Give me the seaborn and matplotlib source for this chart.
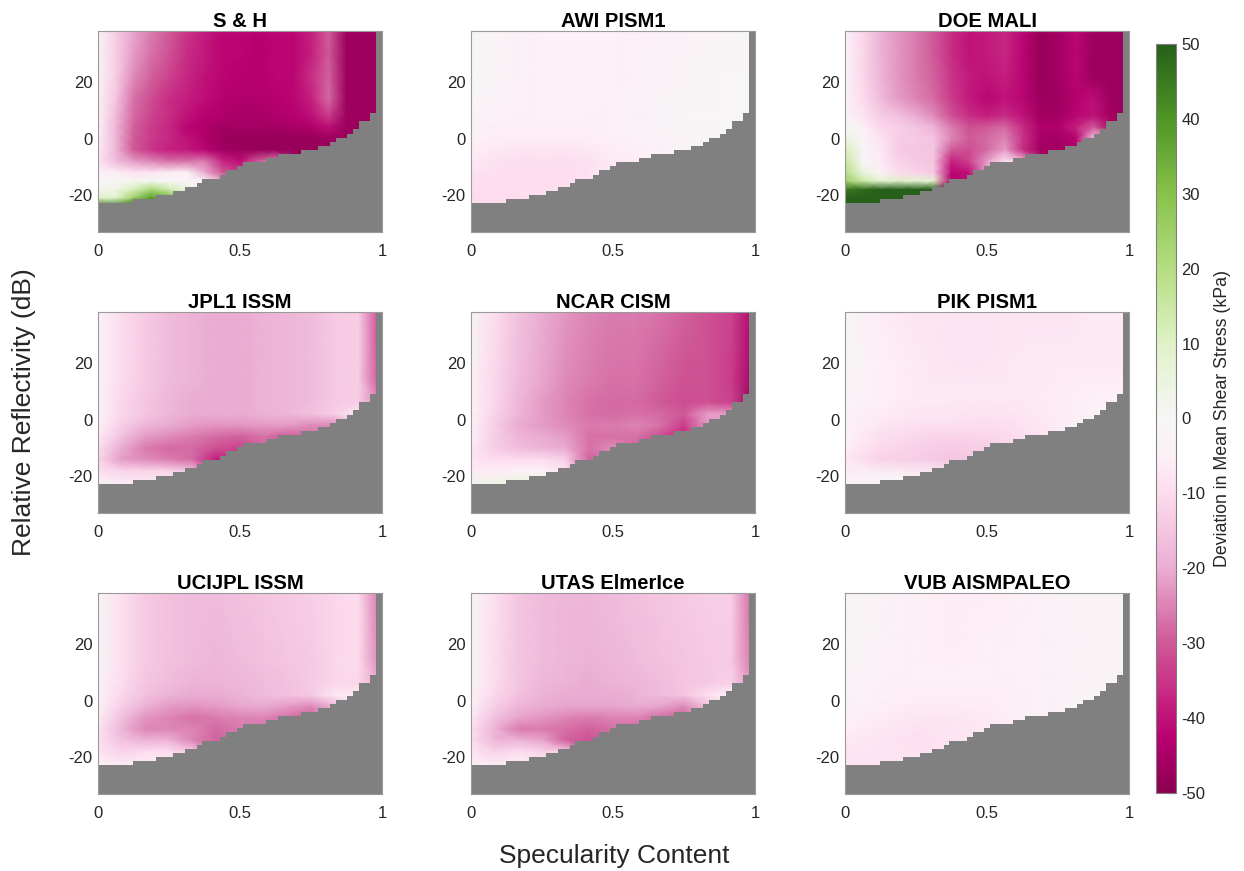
import numpy as np
import pandas as pd
import seaborn as sns
import matplotlib
matplotlib.use("Agg")
import matplotlib.pyplot as plt
from matplotlib.colors import LinearSegmentedColormap, ListedColormap

sns.set_theme(style="white")
plt.rcParams['font.family'] = ['Liberation Sans', 'DejaVu Sans']

# number of grey (no data) cells from the bottom, one entry per specularity bin
floor_cells = [7, 7, 7, 7, 7, 7, 8, 8, 8, 8, 9, 9, 9, 10, 10, 11, 11, 12, 13, 13, 13, 14, 15, 15, 16,
               17, 17, 17, 17, 18, 18, 19, 19, 19, 19, 20, 20, 20, 21, 21, 22, 23, 23, 24, 25, 27, 27, 29, 49]

# reflectivity (dB) of each row in the tables below
rows_fine = [38, 30, 22, 14, 8, 4, 0, -4, -8, -12, -15, -18, -21, -24]
rows_mid = [38, 14, 6, 2, -2, -6, -10, -14, -18, -24]
rows_pale = [38, 20, 8, 0, -8, -14, -20, -24]

# deviation in kPa, columns run evenly from specularity 0 to 1
sh = [
    [-3, -13, -21, -26, -30, -35, -39, -42, -42, -43, -42, -42, -38, -30, -47, -47, -47],
    [-3, -13, -22, -27, -31, -36, -39, -42, -42, -43, -42, -42, -38, -30, -47, -47, -47],
    [-3, -13, -24, -29, -33, -37, -40, -42, -43, -43, -42, -42, -36, -29, -47, -47, -47],
    [-4, -15, -27, -32, -36, -38, -41, -43, -44, -44, -43, -42, -38, -28, -47, -47, -47],
    [-4, -17, -28, -33, -36, -40, -43, -44, -45, -45, -44, -43, -41, -34, -47, -47, -47],
    [-5, -18, -29, -34, -37, -42, -44, -46, -46, -46, -46, -45, -44, -41, -47, -47, -47],
    [-5, -18, -30, -34, -37, -40, -44, -47, -48, -48, -48, -48, -48, -47, -47, -47, -47],
    [-6, -18, -30, -35, -38, -39, -42, -46, -47, -48, -48, -48, -48, -47, -47, -47, -47],
    [-8, -17, -22, -25, -27, -27, -26, -37, -41, -30, -25, -48, -48, -47, -47, -47, -47],
    [-4, -6, -8, -8, -6, -4, -20, -30, -35, -30, -25, -48, -48, -47, -47, -47, -47],
    [-3, 0, 1, 1, -1, -3, -3, -20, -35, -30, -25, -48, -48, -47, -47, -47, -47],
    [2, 3, 12, 22, 14, 5, 3, -20, -35, -30, -25, -48, -48, -47, -47, -47, -47],
    [10, 10, 25, 38, 35, 5, 3, -20, -35, -30, -25, -48, -48, -47, -47, -47, -47],
    [45, 45, 50, 50, 40, 5, 3, -20, -35, -30, -25, -48, -48, -47, -47, -47, -47],
]
doe = [
    [-4, -11, -19, -23, -26, -30, -36, -40, -39, -37, -42, -48, -46, -42, -47, -47, -47],
    [-4, -11, -19, -23, -26, -30, -36, -40, -39, -37, -42, -48, -46, -42, -47, -47, -47],
    [-3, -11, -18, -23, -26, -29, -35, -39, -40, -38, -42, -48, -46, -42, -47, -47, -47],
    [-3, -10, -17, -22, -25, -28, -34, -39, -42, -40, -42, -47, -47, -43, -41, -47, -47],
    [-2, -8, -13, -16, -20, -24, -31, -36, -38, -36, -40, -46, -46, -42, -40, -46, -47],
    [0, -4, -11, -13, -15, -19, -26, -31, -30, -28, -36, -44, -44, -38, -30, -45, -47],
    [5, -1, -8, -13, -14, -15, -25, -30, -28, -25, -35, -45, -46, -43, -15, -12, -47],
    [12, -2, -7, -14, -15, -15, -30, -32, -28, -22, -36, -46, -46, -43, -15, -12, -47],
    [16, -1, -7, -12, -14, -15, -38, -33, -22, -8, -15, -46, -46, -43, -15, -12, -47],
    [20, 5, -3, -10, -12, -14, -42, -40, -22, -8, -15, -46, -46, -43, -15, -12, -47],
    [25, 15, 8, 10, 8, 8, -44, -40, -22, -8, -15, -46, -46, -43, -15, -12, -47],
    [45, 48, 50, 50, 50, 50, -44, -40, -22, -8, -15, -46, -46, -43, -15, -12, -47],
    [50, 50, 50, 50, 50, 50, -44, -40, -22, -8, -15, -46, -46, -43, -15, -12, -47],
    [50, 50, 50, 50, 50, 50, -44, -40, -22, -8, -15, -46, -46, -43, -15, -12, -47],
]
jpl = [
    [-2, -10, -14, -17, -19, -20, -20, -19, -18, -17, -14, -13, -35],
    [-2, -10, -14, -17, -19, -20, -20, -19, -18, -17, -14, -13, -33],
    [-3, -11, -15, -18, -20, -20, -20, -19, -18, -17, -14, -13, -25],
    [-3, -11, -15, -18, -20, -20, -20, -19, -18, -16, -13, -7, -20],
    [-5, -13, -18, -20, -22, -23, -23, -22, -22, -24, -24, -10, -20],
    [-7, -16, -22, -24, -26, -28, -29, -27, -30, -28, -28, -10, -20],
    [-9, -20, -26, -28, -28, -31, -33, -28, -30, -28, -28, -10, -20],
    [-11, -22, -24, -26, -28, -39, -33, -28, -30, -28, -28, -10, -20],
    [-9, -12, -12, -12, -16, -39, -33, -28, -30, -28, -28, -10, -20],
    [-2, -2, -1, -1, -16, -39, -33, -28, -30, -28, -28, -10, -20],
]
ncar = [
    [-2, -10, -16, -20, -23, -25, -26, -26, -27, -29, -31, -33, -44],
    [-2, -11, -17, -21, -24, -26, -27, -27, -29, -31, -31, -34, -46],
    [-3, -11, -18, -22, -25, -27, -28, -28, -30, -32, -31, -33, -50],
    [-3, -12, -18, -22, -25, -27, -28, -27, -28, -30, -22, -22, -50],
    [-4, -13, -20, -22, -24, -26, -26, -25, -27, -34, -22, -22, -50],
    [-5, -13, -18, -20, -22, -27, -27, -27, -32, -37, -22, -22, -50],
    [-7, -13, -17, -19, -20, -27, -24, -29, -32, -37, -22, -22, -50],
    [-8, -10, -10, -10, -13, -29, -24, -29, -32, -37, -22, -22, -50],
    [-7, -6, -4, -4, -8, -29, -24, -29, -32, -37, -22, -22, -50],
    [3, 4, 8, 10, 5, -29, -24, -29, -32, -37, -22, -22, -50],
]
ucijpl = [
    [-1, -9, -14, -16, -17, -17, -16, -15, -14, -13, -11, -10, -28],
    [-1, -9, -14, -16, -17, -18, -17, -16, -15, -14, -11, -10, -26],
    [-2, -10, -15, -17, -19, -19, -18, -17, -16, -14, -11, -11, -20],
    [-3, -11, -16, -19, -20, -20, -19, -17, -16, -14, -7, -6, -20],
    [-4, -13, -19, -22, -23, -22, -21, -20, -22, -24, -18, -6, -20],
    [-6, -16, -23, -25, -27, -26, -25, -25, -27, -30, -18, -6, -20],
    [-8, -18, -25, -25, -25, -28, -26, -27, -27, -30, -18, -6, -20],
    [-9, -16, -19, -19, -25, -29, -26, -27, -27, -30, -18, -6, -20],
    [-8, -12, -10, -10, -14, -29, -26, -27, -27, -30, -18, -6, -20],
    [-3, -3, -2, -2, -14, -29, -26, -27, -27, -30, -18, -6, -20],
]
utas = [
    [-1, -9, -15, -17, -18, -18, -17, -16, -15, -14, -13, -13, -30],
    [-1, -10, -15, -17, -18, -19, -18, -17, -16, -15, -14, -14, -28],
    [-2, -10, -15, -18, -19, -20, -19, -18, -17, -15, -14, -12, -24],
    [-3, -11, -16, -19, -20, -20, -20, -19, -17, -15, -9, -5, -24],
    [-5, -13, -18, -20, -21, -21, -21, -20, -21, -24, -16, -5, -24],
    [-7, -16, -21, -23, -25, -26, -25, -25, -28, -29, -16, -5, -24],
    [-9, -19, -26, -26, -27, -29, -27, -28, -28, -29, -16, -5, -24],
    [-9, -18, -19, -21, -29, -31, -27, -28, -28, -29, -16, -5, -24],
    [-8, -12, -10, -12, -13, -31, -27, -28, -28, -29, -16, -5, -24],
    [-3, -3, -1, -1, -13, -31, -27, -28, -28, -29, -16, -5, -24],
]
awi = [
    [-1, -3, -5, -5, -5, -4, -3, -2, -1],
    [-1, -3, -5, -5, -5, -3, -2, -1, -1],
    [-2, -4, -5, -5, -4, -3, -1, -1, -1],
    [-4, -6, -6, -6, -5, -3, -2, -1, -1],
    [-7, -9, -9, -9, -7, -5, -2, -1, -1],
    [-9, -10, -10, -9, -7, -5, -2, -1, -1],
    [-10, -10, -9, -9, -7, -5, -2, -1, -1],
    [-10, -10, -9, -9, -7, -5, -2, -1, -1],
]
pik = [
    [-1, -6, -8, -8, -8, -8, -8, -7, -7],
    [-1, -5, -7, -8, -8, -7, -7, -7, -7],
    [-2, -5, -7, -7, -7, -7, -6, -5, -5],
    [-3, -7, -8, -8, -9, -8, -6, -3, -3],
    [-5, -10, -12, -13, -12, -10, -6, -3, -3],
    [-7, -12, -13, -15, -13, -10, -6, -3, -3],
    [-5, -3, -2, -4, -13, -10, -6, -3, -3],
    [-2, -1, 0, 0, -13, -10, -6, -3, -3],
]
vub = [
    [-1, -3, -5, -6, -6, -5, -3, -2, -2],
    [-1, -3, -5, -6, -5, -4, -3, -2, -2],
    [-2, -4, -5, -5, -5, -4, -3, -2, -2],
    [-3, -5, -6, -6, -6, -5, -3, -2, -2],
    [-5, -7, -8, -8, -7, -5, -3, -2, -2],
    [-7, -8, -9, -8, -7, -5, -3, -2, -2],
    [-8, -8, -8, -8, -7, -5, -3, -2, -2],
    [-8, -8, -8, -8, -7, -5, -3, -2, -2],
]

titles = ["S & H", "AWI PISM1", "DOE MALI", "JPL1 ISSM", "NCAR CISM", "PIK PISM1",
          "UCIJPL ISSM", "UTAS ElmerIce", "VUB AISMPALEO"]
tables = [sh, awi, doe, jpl, ncar, pik, ucijpl, utas, vub]
row_sets = [rows_fine, rows_pale, rows_fine, rows_mid, rows_mid, rows_pale, rows_mid, rows_mid, rows_pale]

y_top, y_bottom = 38, -33
n_bins = len(floor_cells)
db_per_cell = (y_top - y_bottom) / n_bins

cmap = LinearSegmentedColormap.from_list("dev", [
    (0.00, "#8b0050"), (0.07, "#b80070"), (0.12, "#c5207f"), (0.20, "#cf5a98"),
    (0.30, "#ebaed3"), (0.40, "#fddcee"), (0.45, "#fdf0f7"), (0.50, "#f6f6f6"),
    (0.60, "#e0f2c8"), (0.70, "#b5de82"), (0.80, "#88c24c"), (0.90, "#4f9625"), (1.00, "#27601a")])

W, H = 1244, 871
fig = plt.figure(figsize=(W / 100, H / 100), dpi=100)
lefts = [98, 471, 845]
tops = [31, 312, 593]
floor = pd.DataFrame([[1 if n_bins - r <= c else 0 for c in floor_cells] for r in range(n_bins)])

for i, (title, table, rows) in enumerate(zip(titles, tables, row_sets)):
    left, top = lefts[i % 3], tops[i // 3]
    ax = fig.add_axes([left / W, 1 - (top + 201) / H, 284 / W, 201 / H])

    # grey area where there are no bins
    sns.heatmap(floor, mask=floor == 0, cmap=ListedColormap(["#808080"]), vmin=0, vmax=1,
                cbar=False, xticklabels=False, yticklabels=False, ax=ax)

    values = np.array(table, dtype=float)
    xs = np.linspace(0, n_bins, values.shape[1])
    ys = (y_top - np.array(rows, dtype=float)) / db_per_cell
    mesh = ax.pcolormesh(xs, ys, values, shading="gouraud", cmap=cmap, vmin=-50, vmax=50, zorder=0.5)
    ax.set_xlim(0, n_bins)
    ax.set_ylim(n_bins, 0)

    ax.set_xticks([0, n_bins / 2, n_bins], ["0", "0.5", "1"])
    ax.set_yticks([(y_top - v) / db_per_cell for v in (20, 0, -20)], ["20", "0", "-20"])
    ax.tick_params(axis="both", direction="in", length=2.5, width=0.7, color="#404040",
                   labelsize=12, labelcolor="#262626", top=False, right=True, left=False, bottom=True)
    ax.tick_params(axis="x", pad=8.5)
    ax.tick_params(axis="y", pad=4)
    for s in ax.spines.values():
        s.set_visible(True)
        s.set_color("#9a9a9a")
        s.set_linewidth(0.8)
    ax.set_title(title, fontsize=14.6, fontweight="bold", color="black", pad=3)

cax = fig.add_axes([1156 / W, 1 - 793 / H, 20 / W, 749 / H])
cbar = fig.colorbar(mesh, cax=cax)
cbar.set_ticks(list(range(-50, 51, 10)), labels=[str(v) for v in range(-50, 51, 10)])
cbar.ax.tick_params(direction="in", length=5, width=0.8, color="#6a6a6a", labelsize=12, labelcolor="#262626", pad=4)
cbar.outline.set_edgecolor("#808080")
cbar.outline.set_linewidth(0.8)
cbar.set_label("Deviation in Mean Shear Stress (kPa)", fontsize=12.8, color="#262626", labelpad=6)

fig.text(614 / W, 1 - 856 / H, "Specularity Content", fontsize=19, color="#262626", ha="center", va="center")
fig.text(24 / W, 1 - 412 / H, "Relative Reflectivity (dB)", fontsize=19, color="#262626",
         rotation=90, ha="center", va="center")

fig.savefig("out.png", dpi=100)
